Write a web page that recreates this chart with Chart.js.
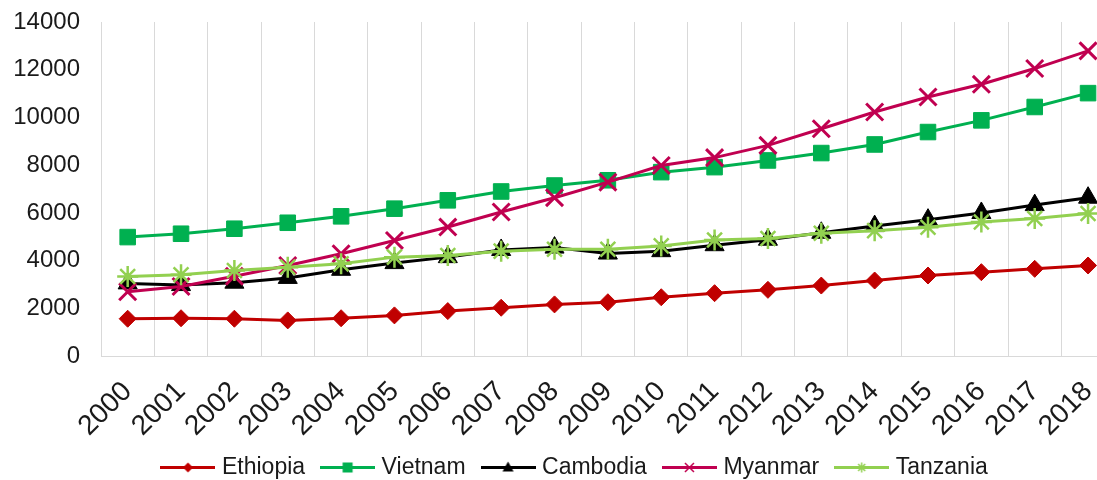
<!DOCTYPE html>
<html><head><meta charset="utf-8">
<script src="https://cdn.jsdelivr.net/npm/chart.js@4.4.1/dist/chart.umd.min.js"></script>
<style>html,body{margin:0;padding:0;overflow:hidden;background:#fff}#wrap{width:1131px;height:489px}</style>
</head><body><div id="wrap"><canvas id="c" width="1131" height="489"></canvas></div>
<script>
const years = ['2000','2001','2002','2003','2004','2005','2006','2007','2008','2009','2010','2011','2012','2013','2014','2015','2016','2017','2018'];
const ethiopia = [1570, 1590, 1570, 1500, 1590, 1710, 1890, 2030, 2170, 2260, 2470, 2640, 2780, 2960, 3170, 3380, 3520, 3660, 3800];
const vietnam  = [4990, 5130, 5340, 5590, 5860, 6180, 6530, 6900, 7150, 7370, 7710, 7920, 8200, 8510, 8870, 9390, 9880, 10440, 11020];
const cambodia = [3050, 2980, 3080, 3280, 3620, 3900, 4150, 4450, 4550, 4300, 4400, 4650, 4880, 5170, 5450, 5720, 6000, 6330, 6640];
const myanmar  = [2700, 2920, 3350, 3800, 4290, 4850, 5410, 6040, 6640, 7290, 7990, 8320, 8830, 9530, 10230, 10860, 11390, 12050, 12790];
const tanzania = [3340, 3410, 3590, 3730, 3870, 4150, 4220, 4400, 4480, 4480, 4620, 4870, 4930, 5150, 5260, 5400, 5620, 5770, 5980];
const yTicks = [0, 2000, 4000, 6000, 8000, 10000, 12000, 14000];
const seriesNames = ['Ethiopia', 'Vietnam', 'Cambodia', 'Myanmar', 'Tanzania'];

const FONT = 'Liberation Sans, Arial, sans-serif';
const TXT = '#1a1a1a';

function legendImage(color, shape) {
  const c = document.createElement('canvas');
  c.width = 55; c.height = 23;
  const g = c.getContext('2d');
  g.strokeStyle = color; g.fillStyle = color; g.lineWidth = 3;
  g.beginPath(); g.moveTo(0, 11.5); g.lineTo(55, 11.5); g.stroke();
  const x = 27.5, y = 11.5;
  g.lineWidth = 1.5;
  g.beginPath();
  if (shape === 'diamond') { g.moveTo(x, y - 5); g.lineTo(x + 5, y); g.lineTo(x, y + 5); g.lineTo(x - 5, y); g.closePath(); g.fill(); }
  else if (shape === 'square') { g.fillRect(x - 5, y - 5, 10, 10); }
  else if (shape === 'triangle') { g.moveTo(x, y - 6); g.lineTo(x + 5.5, y + 4); g.lineTo(x - 5.5, y + 4); g.closePath(); g.fill(); }
  else if (shape === 'x') { g.moveTo(x - 4.5, y - 4.5); g.lineTo(x + 4.5, y + 4.5); g.moveTo(x + 4.5, y - 4.5); g.lineTo(x - 4.5, y + 4.5); g.stroke(); }
  else if (shape === 'star') { for (let k = 0; k < 4; k++) { const a = k * Math.PI / 4; g.moveTo(x - 5 * Math.cos(a), y - 5 * Math.sin(a)); g.lineTo(x + 5 * Math.cos(a), y + 5 * Math.sin(a)); } g.stroke(); }
  return c;
}

const colors = ['#C00000', '#00B050', '#000000', '#C00050', '#92D050'];
const legendShapes = ['diamond', 'square', 'triangle', 'x', 'star'];
const seriesData = [ethiopia, vietnam, cambodia, myanmar, tanzania];
const pointStyles = ['rectRot', 'rect', 'triangle', 'crossRot', 'star'];
const pointRadii = [8.5, 11, 11, 12, 10.5];
const pointBorders = [1, 1, 1, 3, 2.5];
const legendImgs = colors.map((c, i) => legendImage(c, legendShapes[i]));

const datasets = seriesNames.map((name, i) => ({
  label: name,
  data: seriesData[i],
  borderColor: colors[i],
  backgroundColor: colors[i],
  borderWidth: 3,
  pointStyle: pointStyles[i],
  pointRadius: pointRadii[i],
  pointHoverRadius: pointRadii[i],
  pointBorderWidth: pointBorders[i],
  pointBackgroundColor: colors[i],
  pointBorderColor: colors[i],
  tension: 0,
  fill: false,
  clip: false,
  order: 5 - i
}));

const legendShift = {
  id: 'legendShift',
  afterLayout(chart) {
    if (chart.legend) { chart.legend.left += 8; chart.legend.right += 8; }
  }
};

new Chart(document.getElementById('c'), {
  type: 'line',
  data: { labels: years, datasets },
  plugins: [legendShift],
  options: {
    responsive: false,
    animation: false,
    devicePixelRatio: 1,
    layout: { autoPadding: false, padding: { left: 13, right: 6.7, top: 22, bottom: 0 } },
    plugins: {
      tooltip: { enabled: false },
      legend: {
        position: 'bottom',
        labels: {
          usePointStyle: true,
          pointStyleWidth: 45,
          padding: 20,
          color: TXT,
          font: { family: FONT, size: 23 },
          generateLabels: (chart) => chart.data.datasets.map((ds, i) => ({
            text: ds.label,
            pointStyle: legendImgs[i],
            fillStyle: colors[i],
            strokeStyle: 'rgba(0,0,0,0)',
            lineWidth: 0,
            hidden: false,
            datasetIndex: i,
            fontColor: TXT
          }))
        }
      }
    },
    scales: {
      x: {
        type: 'category',
        offset: true,
        grid: { offset: true, color: '#d9d9d9', lineWidth: 1, drawTicks: false },
        border: { display: true, color: '#d9d9d9', width: 1 },
        ticks: { minRotation: 45, maxRotation: 45, autoSkip: false, padding: 19, labelOffset: 0, color: TXT, font: { family: FONT, size: 28 } },
        afterFit: (s) => { s.height = 79.8; }
      },
      y: {
        min: 0, max: 14000,
        grid: { display: false, drawTicks: true, tickLength: 21 },
        border: { display: false },
        afterBuildTicks: (s) => { s.ticks = yTicks.map(v => ({ value: v })); },
        ticks: { padding: 0, color: TXT, font: { family: FONT, size: 24 }, callback: (v) => String(v) },
        afterFit: (s) => { s.width = 88; }
      }
    }
  }
});
</script>
</body></html>
